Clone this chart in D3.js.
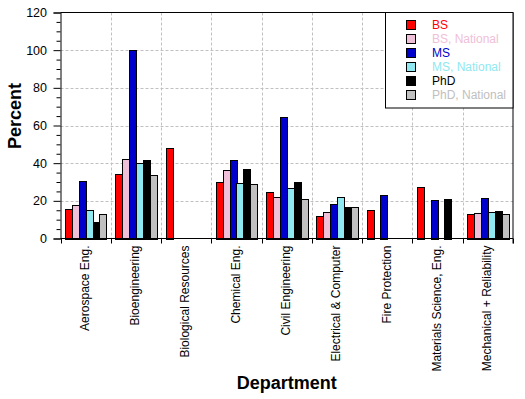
<!DOCTYPE html>
<html>
<head>
<meta charset="utf-8">
<script src="https://cdn.jsdelivr.net/npm/d3@7"></script>
<style>
  body { margin: 0; background: #fff; }
  svg { display: block; font-family: "Liberation Sans", Arial, sans-serif; }
</style>
</head>
<body>
<script>
let categories = ["Aerospace Eng.", "Bioengineering", "Biological Resources", "Chemical Eng.",
  "Civil Engineering", "Electrical & Computer", "Fire Protection",
  "Materials Science, Eng.", "Mechanical + Reliability"];
let seriesNames = ["BS", "BS, National", "MS", "MS, National", "PhD", "PhD, National"];
let bs          = [15.5, 34, 48, 30, 24.5, 12, 15, 27.5, 13];
let bsNational  = [18, 42, null, 36.5, 22, 14, null, null, 13.5];
let ms          = [30.5, 100, null, 41.5, 64.5, 18.5, 23, 20.5, 21.5];
let msNational  = [15, 40, null, 29.5, 27, 22, null, null, 14];
let phd         = [9, 41.5, null, 37, 30, 16.5, null, 21, 14.5];
let phdNational = [13, 33.5, null, 29, 21, 16.5, null, null, 13];
let yTicks = [0, 20, 40, 60, 80, 100, 120];

const colors = ["#ff0000", "#f0c0d8", "#0000cc", "#90e8f0", "#000000", "#c0c0c0"];
const allSeries = [bs, bsNational, ms, msNational, phd, phdNational];

const w = 525, h = 399;
const pLeft = 60.5, pRight = 513, pTop = 12.5, pBottom = 238.5;

const svg = d3.select("body").append("svg")
  .attr("width", w).attr("height", h);

const x = d3.scaleBand()
  .domain(categories)
  .range([pLeft, pRight]);

const xInner = d3.scaleBand()
  .domain(d3.range(seriesNames.length))
  .range([4.5, x.bandwidth() - 4.5]);

const y = d3.scaleLinear()
  .domain([0, 120])
  .range([pBottom, pTop]);

// grid
const grid = svg.append("g").attr("stroke", "#c0c0c0").attr("stroke-dasharray", "3,2");
grid.selectAll(".hg")
  .data(yTicks.filter(d => d > 0 && d < 120))
  .enter().append("line")
  .attr("x1", pLeft).attr("x2", pRight)
  .attr("y1", d => Math.round(y(d)) + 0.5).attr("y2", d => Math.round(y(d)) + 0.5);
grid.selectAll(".vg")
  .data(categories.slice(1))
  .enter().append("line")
  .attr("x1", d => Math.round(x(d)) + 0.5).attr("x2", d => Math.round(x(d)) + 0.5)
  .attr("y1", pTop).attr("y2", pBottom);

// bars
const rows = [];
allSeries.forEach((s, si) => {
  s.forEach((v, ci) => {
    if (v != null) rows.push({ si: si, cat: categories[ci], v: v });
  });
});

svg.append("g").selectAll("rect")
  .data(rows)
  .enter().append("rect")
  .attr("x", d => Math.round(x(d.cat) + xInner(d.si)) + 0.5)
  .attr("y", d => Math.round(y(d.v)) + 0.5)
  .attr("width", Math.round(xInner.bandwidth()))
  .attr("height", d => Math.round(pBottom) - Math.round(y(d.v)))
  .attr("fill", d => colors[d.si])
  .attr("stroke", "#000")
  .attr("stroke-width", 1);

// y axis
const yAxis = d3.axisLeft(y).tickValues(yTicks).tickSize(7).tickPadding(6.5);
const gy = svg.append("g")
  .attr("transform", "translate(" + pLeft + ",0)")
  .call(yAxis);
gy.selectAll("text").attr("font-size", "12.5px").attr("fill", "#000").attr("font-family", "inherit");
gy.select(".domain").attr("stroke", "#000");

const minor = d3.range(5, 120, 5).filter(d => d % 20 !== 0);
svg.append("g")
  .attr("transform", "translate(" + pLeft + ",0)")
  .call(d3.axisLeft(y).tickValues(minor).tickSize(4).tickFormat(""))
  .select(".domain").remove();

// x axis
const gx = svg.append("g")
  .attr("transform", "translate(0," + pBottom + ")")
  .call(d3.axisBottom(x).tickSize(0).tickPadding(0));
gx.select(".domain").remove();
gx.selectAll("text")
  .attr("transform", "rotate(-90)")
  .attr("x", -7)
  .attr("y", 0)
  .attr("dy", "0.27em")
  .attr("text-anchor", "end")
  .attr("font-size", "12px")
  .attr("font-family", "inherit")
  .attr("fill", "#000");

const edges = categories.map(d => x(d)).concat([pRight]);
svg.append("g").selectAll("line")
  .data(edges)
  .enter().append("line")
  .attr("x1", d => Math.round(d) + 0.5).attr("x2", d => Math.round(d) + 0.5)
  .attr("y1", pBottom).attr("y2", pBottom + 5)
  .attr("stroke", "#000");

// frame
svg.append("path")
  .attr("d", "M" + pLeft + "," + pBottom + "H" + pRight + "M" + pLeft + "," + pTop + "H" + pRight + "V" + (pBottom + 5))
  .attr("fill", "none")
  .attr("stroke", "#000");

// axis titles
svg.append("text")
  .attr("transform", "translate(20.5,116) rotate(-90)")
  .attr("text-anchor", "middle")
  .attr("font-size", "18px")
  .attr("font-weight", "bold")
  .text("Percent");

svg.append("text")
  .attr("x", (pLeft + pRight) / 2)
  .attr("y", 389)
  .attr("text-anchor", "middle")
  .attr("font-size", "18px")
  .attr("font-weight", "bold")
  .text("Department");

// legend
const lg = svg.append("g");
lg.append("rect")
  .attr("x", 385.5).attr("y", pTop)
  .attr("width", pRight - 385.5).attr("height", 95.5)
  .attr("fill", "#fff").attr("stroke", "#000");

const items = lg.selectAll(".item")
  .data(seriesNames)
  .enter().append("g")
  .attr("transform", (d, i) => "translate(0," + (25 + i * 14) + ")");
items.append("rect")
  .attr("x", 406.5).attr("y", -4.5)
  .attr("width", 9).attr("height", 9)
  .attr("fill", (d, i) => colors[i])
  .attr("stroke", "#000");
items.append("text")
  .attr("x", 432)
  .attr("dy", "0.36em")
  .attr("font-size", "12px")
  .attr("fill", (d, i) => colors[i])
  .text(d => d);
</script>
</body>
</html>
